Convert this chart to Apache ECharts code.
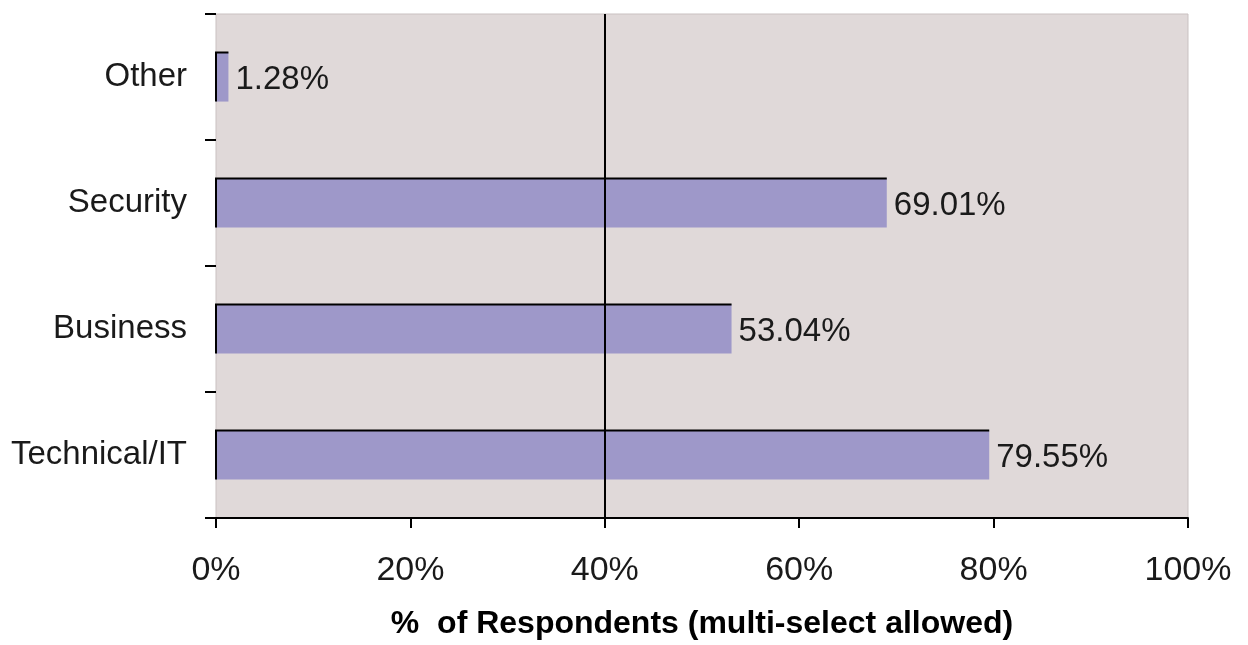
<!DOCTYPE html>
<html>
<head>
<meta charset="utf-8">
<script src="https://cdn.jsdelivr.net/npm/echarts@6/dist/echarts.min.js"></script>
<style>
  html, body { margin: 0; padding: 0; background: #ffffff; }
  #chart { width: 1248px; height: 645px; }
</style>
</head>
<body>
<div id="chart"></div>
<script>
// Categories listed bottom to top, as drawn on the vertical axis
const categories = ['Technical/IT', 'Business', 'Security', 'Other'];
// Share of respondents per category (percent)
const values = [79.55, 53.04, 69.01, 1.28];
// Horizontal axis ticks (percent)
const xTicks = [0, 20, 40, 60, 80, 100];
// Reference line position (percent)
const refLine = 40;

const FONT = '"Liberation Sans", Arial, sans-serif';
const barData = values.map((v, i) => [v, i]);

const chart = echarts.init(document.getElementById('chart'), null, { renderer: 'canvas' });

chart.setOption({
  animation: false,
  backgroundColor: '#ffffff',
  grid: {
    left: 216, right: 60, top: 14, bottom: 126,
    show: true,
    backgroundColor: '#e0d9d9',
    borderColor: '#c9c1c1',
    borderWidth: 1
  },
  xAxis: {
    type: 'value',
    min: xTicks[0],
    max: xTicks[xTicks.length - 1],
    interval: 20,
    axisLine: { show: true, lineStyle: { color: '#000', width: 2 } },
    axisTick: { show: true, length: 10, lineStyle: { color: '#000', width: 2 } },
    splitLine: { show: false },
    axisLabel: {
      margin: 36,
      color: '#1a1a1a',
      fontFamily: FONT,
      fontSize: 34,
      formatter: v => v + '%'
    },
    name: '%  of Respondents (multi-select allowed)',
    nameLocation: 'middle',
    nameGap: 90,
    nameTextStyle: { color: '#000', fontFamily: FONT, fontSize: 32, fontWeight: 'bold' }
  },
  yAxis: {
    type: 'category',
    data: categories,
    axisLine: { show: false },
    axisTick: { show: true, length: 11, lineStyle: { color: '#000', width: 2 } },
    axisLabel: {
      margin: 29,
      color: '#1a1a1a',
      fontFamily: FONT,
      fontSize: 33,
      padding: [6, 0, 0, 0]
    }
  },
  series: [
    {
      // carries the vertical reference line beneath the bars
      type: 'line',
      data: [],
      z: 1,
      markLine: {
        silent: true,
        symbol: 'none',
        label: { show: false },
        lineStyle: { color: '#000', width: 2, type: 'solid' },
        data: [{ xAxis: refLine }]
      }
    },
    {
      type: 'custom',
      z: 3,
      data: barData,
      encode: { x: 0, y: 1 },
      renderItem: function (params, api) {
        const v = api.value(0);
        const c = api.value(1);
        const start = api.coord([0, c]);
        const end = api.coord([v, c]);
        const h = api.size([0, 1])[1] * 0.39;
        const x = start[0];
        const y = start[1] - h / 2;
        const w = end[0] - start[0];
        return {
          type: 'group',
          children: [
            {
              type: 'rect',
              shape: { x: x, y: y, width: w, height: h },
              style: { fill: '#9e98c9' }
            },
            {
              type: 'polyline',
              shape: { points: [[x, y + h], [x, y], [x + w, y]] },
              style: { stroke: '#000', lineWidth: 2, fill: null }
            },
            {
              type: 'text',
              style: {
                text: v.toFixed(2) + '%',
                x: end[0] + 7,
                y: start[1] + 3,
                verticalAlign: 'middle',
                align: 'left',
                fill: '#1a1a1a',
                font: '33px ' + FONT
              }
            }
          ]
        };
      }
    }
  ]
});
</script>
</body>
</html>
